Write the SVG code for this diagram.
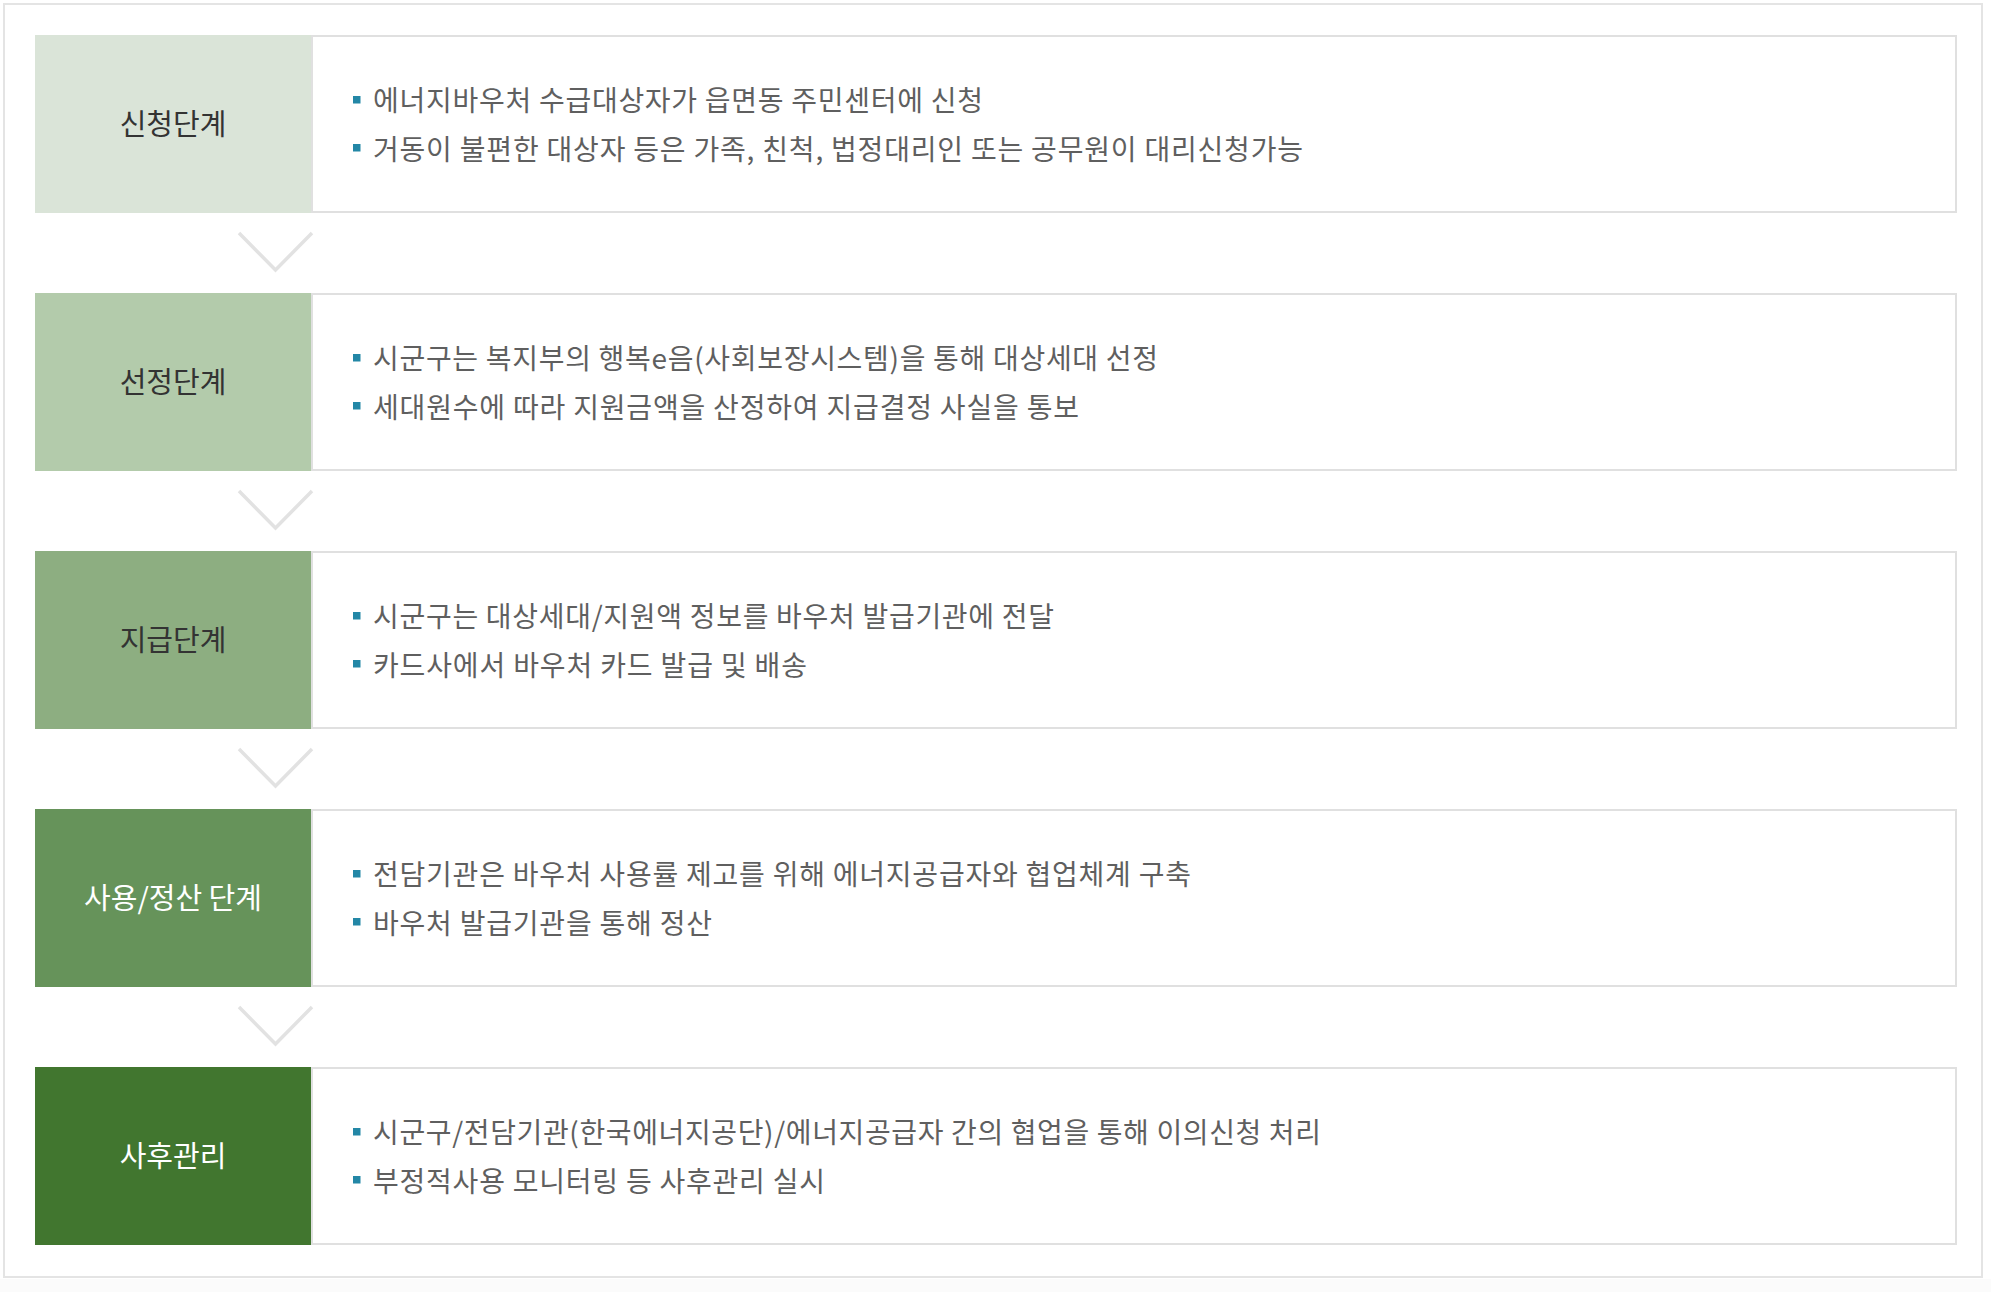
<svg xmlns="http://www.w3.org/2000/svg" width="1991" height="1292" viewBox="0 0 1991 1292">
  <style>
    .frame { fill: #ffffff; stroke: #e4e4e4; stroke-width: 2; }
    .box { fill: #ffffff; stroke: #e0e0e0; stroke-width: 2; }
    .lbl { font-family: "Noto Sans CJK KR", "Noto Sans", sans-serif; font-size: 29px; text-anchor: middle; }
    .dark { fill: #333333; }
    .light { fill: #ffffff; }
    .txt { font-family: "Noto Sans CJK KR", "Noto Sans", sans-serif; font-size: 28px; fill: #5f5f5f; }
    .bul { fill: #2387a6; }
    .chev { fill: none; stroke: #e2e2e2; stroke-width: 3.5; stroke-linejoin: miter; stroke-linecap: butt; }
  </style>
  <rect x="0" y="0" width="1991" height="1292" fill="#ffffff"/>
  <rect x="0" y="1279" width="1991" height="13" fill="#fbfbfb"/>
  <rect class="frame" x="4" y="4" width="1978" height="1273"/>

  <g id="connectors">
    <polyline class="chev" points="239,233 275.5,270 312,233"/>
    <polyline class="chev" points="239,491 275.5,528 312,491"/>
    <polyline class="chev" points="239,749 275.5,786 312,749"/>
    <polyline class="chev" points="239,1007 275.5,1044 312,1007"/>
  </g>

  <g id="step1">
    <rect class="box" x="312" y="36" width="1644" height="176"/>
    <rect x="35" y="35" width="276" height="178" fill="#dae4d8"/>
    <text class="lbl dark" x="173" y="135">신청단계</text>
    <rect class="bul" x="353" y="96" width="7.5" height="7.5"/>
    <text class="txt" x="373" y="111" textLength="610" lengthAdjust="spacing">에너지바우처 수급대상자가 읍면동 주민센터에 신청</text>
    <rect class="bul" x="353" y="144" width="7.5" height="7.5"/>
    <text class="txt" x="373" y="159.5" textLength="930" lengthAdjust="spacing">거동이 불편한 대상자 등은 가족, 친척, 법정대리인 또는 공무원이 대리신청가능</text>
  </g>

  <g id="step2">
    <rect class="box" x="312" y="294" width="1644" height="176"/>
    <rect x="35" y="293" width="276" height="178" fill="#b3cbab"/>
    <text class="lbl dark" x="173" y="393">선정단계</text>
    <rect class="bul" x="353" y="354" width="7.5" height="7.5"/>
    <text class="txt" x="373" y="369" textLength="785" lengthAdjust="spacing">시군구는 복지부의 행복e음(사회보장시스템)을 통해 대상세대 선정</text>
    <rect class="bul" x="353" y="402" width="7.5" height="7.5"/>
    <text class="txt" x="373" y="417.5" textLength="706" lengthAdjust="spacing">세대원수에 따라 지원금액을 산정하여 지급결정 사실을 통보</text>
  </g>

  <g id="step3">
    <rect class="box" x="312" y="552" width="1644" height="176"/>
    <rect x="35" y="551" width="276" height="178" fill="#8dae81"/>
    <text class="lbl dark" x="173" y="651">지급단계</text>
    <rect class="bul" x="353" y="612" width="7.5" height="7.5"/>
    <text class="txt" x="373" y="627" textLength="681" lengthAdjust="spacing">시군구는 대상세대/지원액 정보를 바우처 발급기관에 전달</text>
    <rect class="bul" x="353" y="660" width="7.5" height="7.5"/>
    <text class="txt" x="373" y="675.5" textLength="434" lengthAdjust="spacing">카드사에서 바우처 카드 발급 및 배송</text>
  </g>

  <g id="step4">
    <rect class="box" x="312" y="810" width="1644" height="176"/>
    <rect x="35" y="809" width="276" height="178" fill="#66935a"/>
    <text class="lbl light" x="173" y="909">사용/정산 단계</text>
    <rect class="bul" x="353" y="870" width="7.5" height="7.5"/>
    <text class="txt" x="373" y="885" textLength="818" lengthAdjust="spacing">전담기관은 바우처 사용률 제고를 위해 에너지공급자와 협업체계 구축</text>
    <rect class="bul" x="353" y="918" width="7.5" height="7.5"/>
    <text class="txt" x="373" y="933.5" textLength="339" lengthAdjust="spacing">바우처 발급기관을 통해 정산</text>
  </g>

  <g id="step5">
    <rect class="box" x="312" y="1068" width="1644" height="176"/>
    <rect x="35" y="1067" width="276" height="178" fill="#41762f"/>
    <text class="lbl light" x="173" y="1167">사후관리</text>
    <rect class="bul" x="353" y="1128" width="7.5" height="7.5"/>
    <text class="txt" x="373" y="1143" textLength="948" lengthAdjust="spacing">시군구/전담기관(한국에너지공단)/에너지공급자 간의 협업을 통해 이의신청 처리</text>
    <rect class="bul" x="353" y="1176" width="7.5" height="7.5"/>
    <text class="txt" x="373" y="1191.5" textLength="452" lengthAdjust="spacing">부정적사용 모니터링 등 사후관리 실시</text>
  </g>
</svg>
